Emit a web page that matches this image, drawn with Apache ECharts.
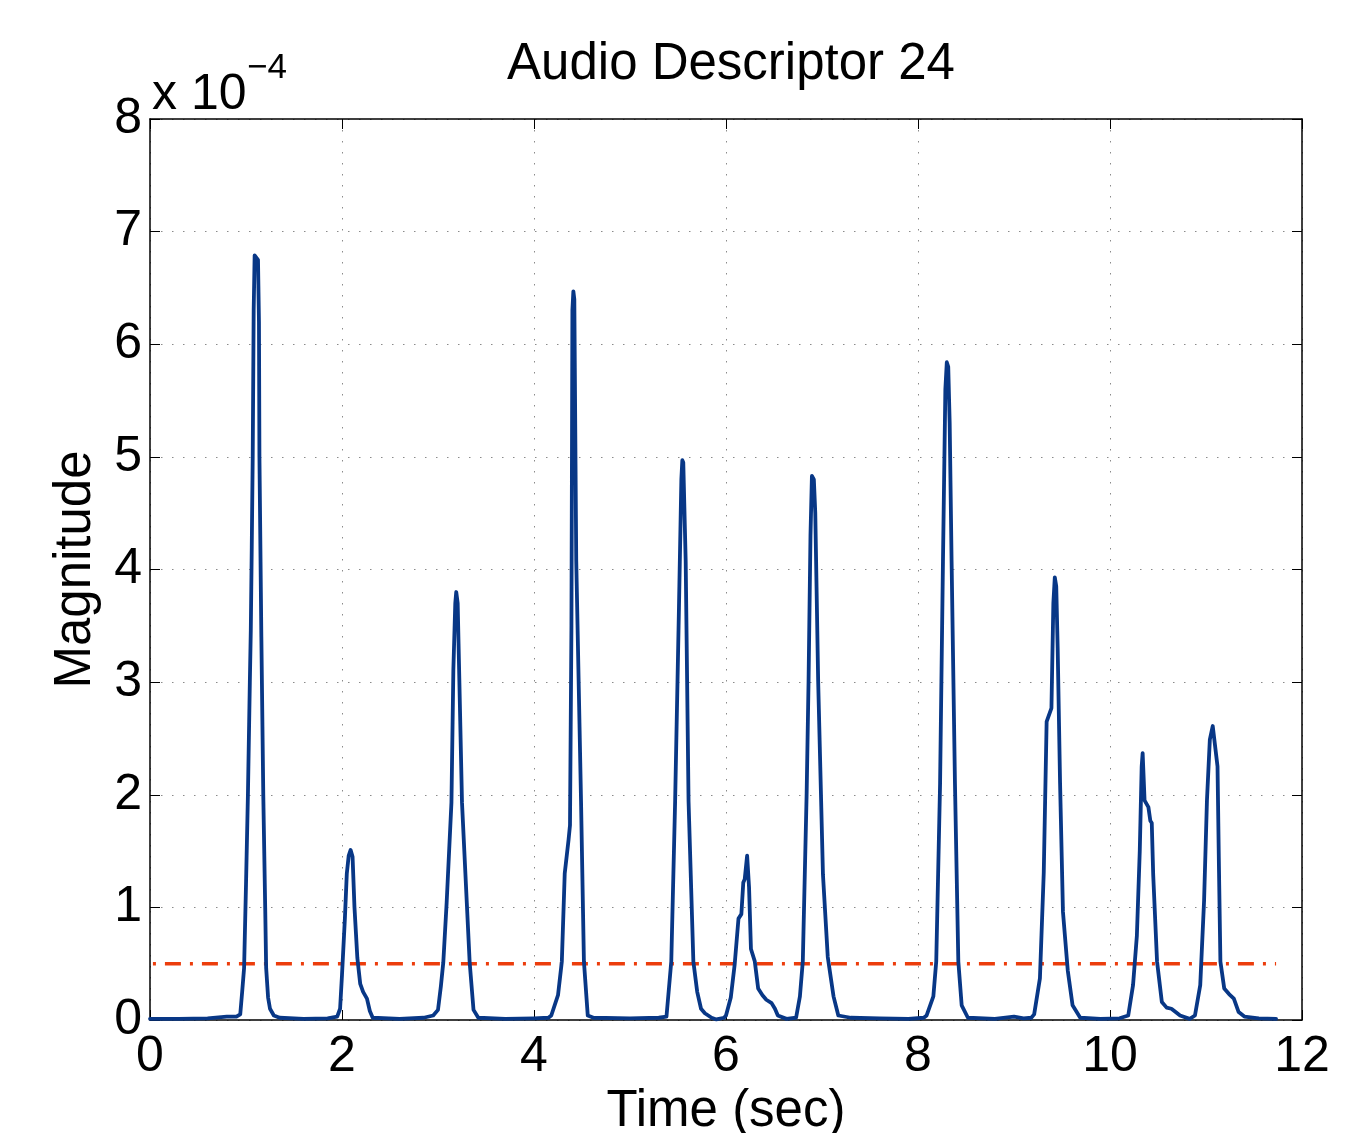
<!DOCTYPE html>
<html>
<head>
<meta charset="utf-8">
<title>Audio Descriptor 24</title>
<script src="https://cdn.jsdelivr.net/npm/echarts@6/dist/echarts.min.js"></script>
<style>
  html, body { margin: 0; padding: 0; background: #ffffff; }
  #chart { width: 1362px; height: 1133px; }
</style>
</head>
<body>
<div id="chart"></div>
<script>
// Descriptor trace: time in seconds, magnitude in units of 1e-4
const timeSec = [
  0, 0.3, 0.6, 0.8, 0.9, 0.94,
  0.96, 0.98, 1.0, 1.02, 1.04, 1.05, 1.06, 1.07, 1.08, 1.09, 1.11, 1.125, 1.135, 1.14, 1.16, 1.18, 1.2, 1.21, 1.23, 1.25, 1.29, 1.35,
  1.6, 1.85, 1.95,
  1.98, 2.0, 2.03, 2.05, 2.07, 2.09, 2.11, 2.13, 2.16, 2.19, 2.22, 2.26, 2.29, 2.32,
  2.6, 2.85, 2.95,
  3.0, 3.03, 3.055, 3.09, 3.14, 3.16, 3.18, 3.19, 3.205, 3.22, 3.25, 3.3, 3.33, 3.37, 3.42,
  3.7, 4.0, 4.15,
  4.18, 4.25, 4.29, 4.32, 4.36, 4.375, 4.39, 4.4, 4.41, 4.42, 4.44, 4.49, 4.52, 4.56, 4.62,
  5.0, 5.3, 5.38,
  5.4, 5.43, 5.47, 5.51, 5.535, 5.545, 5.555, 5.58, 5.61, 5.66, 5.7, 5.74, 5.78, 5.85, 5.9, 5.98,
  6.0, 6.05, 6.09, 6.13, 6.16, 6.18, 6.195, 6.22, 6.24, 6.26, 6.3, 6.335, 6.38, 6.42, 6.475, 6.51, 6.54, 6.63, 6.73,
  6.77, 6.8, 6.84, 6.86, 6.88, 6.895, 6.915, 6.93, 6.96, 7.01, 7.06, 7.12, 7.17, 7.3,
  7.6, 7.9, 8.06,
  8.09, 8.16, 8.19, 8.23, 8.26, 8.285, 8.3, 8.315, 8.33, 8.35, 8.385, 8.42, 8.455, 8.52,
  8.8, 9.0, 9.1, 9.18,
  9.21, 9.27, 9.31, 9.34, 9.39, 9.41, 9.425, 9.44, 9.455, 9.48, 9.51, 9.56, 9.61, 9.69,
  9.9, 10.1, 10.19,
  10.24, 10.28, 10.31, 10.33, 10.34, 10.36, 10.4, 10.42, 10.435, 10.45, 10.49, 10.54, 10.59, 10.64, 10.73, 10.83,
  10.885, 10.94, 10.98, 11.01, 11.04, 11.07, 11.09, 11.12, 11.135, 11.15, 11.19, 11.24, 11.29, 11.34, 11.4, 11.55, 11.73
];
const magnitude = [
  0.01, 0.01, 0.015, 0.03, 0.03, 0.05,
  0.25, 0.46, 1.2, 2.0, 3.0, 3.46, 4.2, 5.0, 6.3, 6.79, 6.8, 6.75, 6.2, 5.0, 3.4, 2.0, 1.0, 0.46, 0.2, 0.1, 0.04, 0.02,
  0.01, 0.015, 0.03,
  0.1, 0.4, 0.9, 1.3, 1.46, 1.51, 1.45, 1.0, 0.55, 0.32, 0.25, 0.19, 0.08, 0.02,
  0.01, 0.02, 0.04,
  0.09, 0.3, 0.51, 1.04, 1.93, 3.11, 3.7, 3.8, 3.7, 3.11, 1.93, 1.04, 0.51, 0.09, 0.02,
  0.01, 0.015, 0.02,
  0.04, 0.22, 0.52, 1.3, 1.6, 1.73, 3.5, 6.3, 6.47, 6.4, 4.08, 1.94, 0.52, 0.04, 0.02,
  0.015, 0.02, 0.03,
  0.04, 0.52, 1.94, 3.66, 4.8, 4.97, 4.95, 4.08, 1.94, 0.52, 0.25, 0.1, 0.06, 0.02, 0.005, 0.02,
  0.04, 0.2, 0.49, 0.9, 0.94, 1.22, 1.25, 1.46, 1.18, 0.63, 0.52, 0.28, 0.22, 0.18, 0.15, 0.1, 0.04, 0.01, 0.02,
  0.21, 0.52, 2.01, 3.01, 4.3, 4.83, 4.8, 4.5, 3.01, 1.29, 0.56, 0.21, 0.04, 0.02,
  0.015, 0.01, 0.02,
  0.04, 0.21, 0.52, 2.1, 4.07, 5.6, 5.84, 5.8, 5.3, 4.07, 2.1, 0.52, 0.13, 0.02,
  0.01, 0.03, 0.015, 0.02,
  0.05, 0.37, 1.31, 2.65, 2.77, 3.7, 3.93, 3.85, 3.3, 2.1, 0.96, 0.44, 0.13, 0.02,
  0.01, 0.015, 0.04,
  0.31, 0.75, 1.5, 2.25, 2.37, 1.95, 1.89, 1.77, 1.75, 1.29, 0.52, 0.16, 0.11, 0.1, 0.04, 0.01,
  0.04, 0.31, 1.06, 1.95, 2.49, 2.61, 2.6, 2.25, 1.35, 0.52, 0.28, 0.23, 0.19, 0.07, 0.03, 0.015, 0.01
];
// Detection threshold (units of 1e-4) and its time span
const thresholdLevel = 0.5;
const thresholdSpan = [0.02, 11.73];

const xTicks = [0, 2, 4, 6, 8, 10, 12];
const yTicks = [0, 1, 2, 3, 4, 5, 6, 7, 8];

const FONT = '"Liberation Sans", Arial, Helvetica, sans-serif';
const traceData = timeSec.map((t, i) => [t, magnitude[i]]);
const thresholdData = thresholdSpan.map(t => [t, thresholdLevel]);

const chart = echarts.init(document.getElementById('chart'), null, { renderer: 'canvas' });

const gridLine = { show: true, lineStyle: { color: '#8a8a8a', width: 1, type: [1.5, 9.5] } };
const frameLine = { show: true, onZero: false, lineStyle: { color: '#000000', width: 1.5 } };
const innerTick = { show: true, inside: true, length: 10, lineStyle: { color: '#000000', width: 1 } };

chart.setOption({
  animation: false,
  backgroundColor: '#ffffff',
  title: {
    text: 'Audio Descriptor 24',
    left: 726, top: 34, textAlign: 'center',
    textStyle: { fontFamily: FONT, fontSize: 51, fontWeight: 'normal', color: '#000000' }
  },
  grid: { left: 150, right: 60, top: 119, bottom: 113, containLabel: false, outerBoundsMode: 'none' },
  xAxis: [
    {
      type: 'value', min: xTicks[0], max: xTicks[xTicks.length - 1], interval: 2,
      position: 'bottom',
      axisLine: frameLine, axisTick: innerTick, splitLine: gridLine,
      axisLabel: { fontFamily: FONT, fontSize: 50, color: '#000000', margin: 12 },
      name: 'Time (sec)', nameLocation: 'middle', nameGap: 62,
      nameTextStyle: { fontFamily: FONT, fontSize: 51, color: '#000000' }
    },
    {
      type: 'value', min: xTicks[0], max: xTicks[xTicks.length - 1], interval: 2,
      position: 'top',
      axisLine: frameLine, axisTick: innerTick, splitLine: { show: false },
      axisLabel: { show: false }
    }
  ],
  yAxis: [
    {
      type: 'value', min: yTicks[0], max: yTicks[yTicks.length - 1], interval: 1,
      position: 'left',
      axisLine: frameLine, axisTick: innerTick, splitLine: gridLine,
      axisLabel: { fontFamily: FONT, fontSize: 50, color: '#000000', margin: 8 },
      name: 'Magnitude', nameLocation: 'middle', nameGap: 49, nameRotate: 90,
      nameTextStyle: { fontFamily: FONT, fontSize: 51, color: '#000000' }
    },
    {
      type: 'value', min: yTicks[0], max: yTicks[yTicks.length - 1], interval: 1,
      position: 'right',
      axisLine: frameLine, axisTick: innerTick, splitLine: { show: false },
      axisLabel: { show: false }
    }
  ],
  graphic: [
    {
      type: 'text', left: 152, top: 70,
      style: { text: 'x 10', font: '50px ' + FONT, fill: '#000000' }
    },
    {
      type: 'text', left: 247, top: 51,
      style: { text: '\u22124', font: '35px ' + FONT, fill: '#000000' }
    }
  ],
  series: [
    {
      name: 'Threshold', type: 'line', data: thresholdData,
      xAxisIndex: 0, yAxisIndex: 0, symbol: 'none', silent: true, z: 2,
      lineStyle: { color: '#ec3d0c', width: 3.6, type: [16, 9, 3, 9], dashOffset: 24 }
    },
    {
      name: 'Descriptor', type: 'line', data: traceData,
      xAxisIndex: 0, yAxisIndex: 0, symbol: 'none', smooth: false, z: 3,
      lineStyle: { color: '#083786', width: 3.8, join: 'round', cap: 'round' }
    }
  ]
});
</script>
</body>
</html>
